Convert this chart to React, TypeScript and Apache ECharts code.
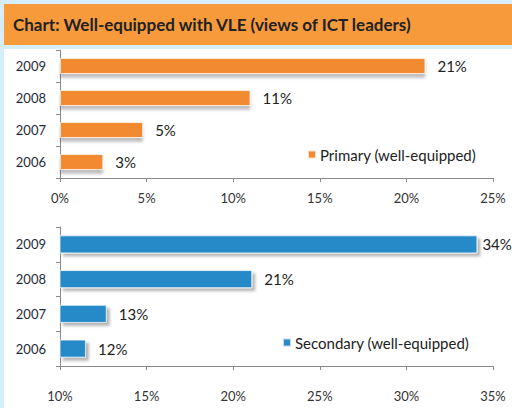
import React, { useEffect, useRef } from "react";
import * as echarts from "echarts";

const TITLE = "Chart: Well-equipped with VLE (views of ICT leaders)";
const years = ["2006", "2007", "2008", "2009"];
const primaryName = "Primary (well-equipped)";
const secondaryName = "Secondary (well-equipped)";
const primaryValues = [2.5, 4.8, 11, 21.1];
const secondaryValues = [11.5, 12.7, 21.1, 34.1];

const FONT = "Lato, 'Open Sans', sans-serif";

export default function App() {
  const ref = useRef<HTMLDivElement>(null);
  useEffect(() => {
    document.body.style.margin = "0";
    const chart = echarts.init(ref.current!, null, { renderer: "svg" });
    const axisLine = { show: true, lineStyle: { color: "#8a8a8a", width: 1 } };
    const axisTick = { show: true, length: 4, lineStyle: { color: "#8a8a8a" } };
    const labelFmt = (p: any) => Math.round(p.value) + "%";
    chart.setOption({
      animation: false,
      textStyle: { fontFamily: FONT },
      graphic: [
        { type: "rect", shape: { x: 0, y: 0, width: 512, height: 408 }, style: { fill: "#d6edfa" }, z: -10 },
        { type: "rect", shape: { x: 4, y: 4, width: 508, height: 41 }, style: { fill: "#f79a3c" }, z: -9 },
        { type: "rect", shape: { x: 4, y: 49, width: 508, height: 359 }, style: { fill: "#ffffff" }, z: -9 },
        {
          type: "text",
          x: 13,
          y: 24,
          style: {
            text: TITLE,
            fill: "#222222",
            font: "bold 17px " + FONT,
            textVerticalAlign: "middle",
          },
          z: -8,
        },
      ],
      grid: [
        { left: 60, top: 50, width: 433, height: 128 },
        { left: 60, top: 227, width: 433, height: 139 },
      ],
      legend: [
        {
          data: [primaryName],
          left: 302,
          top: 142,
          itemWidth: 8,
          itemHeight: 8,
          icon: "rect",
          itemGap: 4,
          textStyle: { fontSize: 15, color: "#222", fontFamily: FONT, padding: [0, 0, 0, -1] },
        },
        {
          data: [secondaryName],
          left: 277,
          top: 330,
          itemWidth: 8,
          itemHeight: 8,
          icon: "rect",
          textStyle: { fontSize: 15, color: "#222", fontFamily: FONT, padding: [0, 0, 0, -1] },
        },
      ],
      xAxis: [
        {
          gridIndex: 0,
          type: "value",
          min: 0,
          max: 25,
          interval: 5,
          axisLine,
          axisTick,
          splitLine: { show: false },
          axisLabel: { formatter: "{value}%", fontSize: 13, color: "#333", margin: 13, fontFamily: FONT },
        },
        {
          gridIndex: 1,
          type: "value",
          min: 10,
          max: 35,
          interval: 5,
          axisLine,
          axisTick,
          splitLine: { show: false },
          axisLabel: { formatter: "{value}%", fontSize: 13, color: "#333", margin: 23, fontFamily: FONT },
        },
      ],
      yAxis: [
        {
          gridIndex: 0,
          type: "category",
          data: years,
          axisLine,
          axisTick,
          axisLabel: { fontSize: 13, color: "#1f2a38", margin: 14, fontFamily: FONT },
        },
        {
          gridIndex: 1,
          type: "category",
          data: years,
          axisLine,
          axisTick,
          axisLabel: { fontSize: 13, color: "#1f2a38", margin: 14, fontFamily: FONT },
        },
      ],
      series: [
        {
          name: primaryName,
          type: "bar",
          xAxisIndex: 0,
          yAxisIndex: 0,
          barWidth: "50%",
          data: primaryValues,
          itemStyle: {
            color: "#f28a33",
            borderColor: "rgba(255,255,255,0.7)",
            borderWidth: 1,
            shadowColor: "rgba(0,0,0,0.25)",
            shadowBlur: 3,
            shadowOffsetX: 0,
            shadowOffsetY: 4,
          },
          label: {
            show: true,
            position: "right",
            distance: 12,
            formatter: labelFmt,
            fontSize: 15,
            color: "#222",
            fontFamily: FONT,
          },
        },
        {
          name: secondaryName,
          type: "bar",
          xAxisIndex: 1,
          yAxisIndex: 1,
          barWidth: "52%",
          clip: true,
          data: secondaryValues.map((v, i) =>
            i === secondaryValues.length - 1 ? { value: v, label: { distance: 5 } } : v
          ),
          itemStyle: {
            color: "#288ac9",
            borderColor: "rgba(255,255,255,0.7)",
            borderWidth: 1,
            shadowColor: "rgba(0,0,0,0.3)",
            shadowBlur: 3,
            shadowOffsetX: 3,
            shadowOffsetY: 3,
          },
          label: {
            show: true,
            position: "right",
            distance: 12,
            formatter: labelFmt,
            fontSize: 15,
            color: "#222",
            fontFamily: FONT,
          },
        },
      ],
    });
    return () => chart.dispose();
  }, []);
  return (
    <div
      ref={ref}
      style={{ position: "absolute", left: 0, top: 0, width: 512, height: 408 }}
    />
  );
}
